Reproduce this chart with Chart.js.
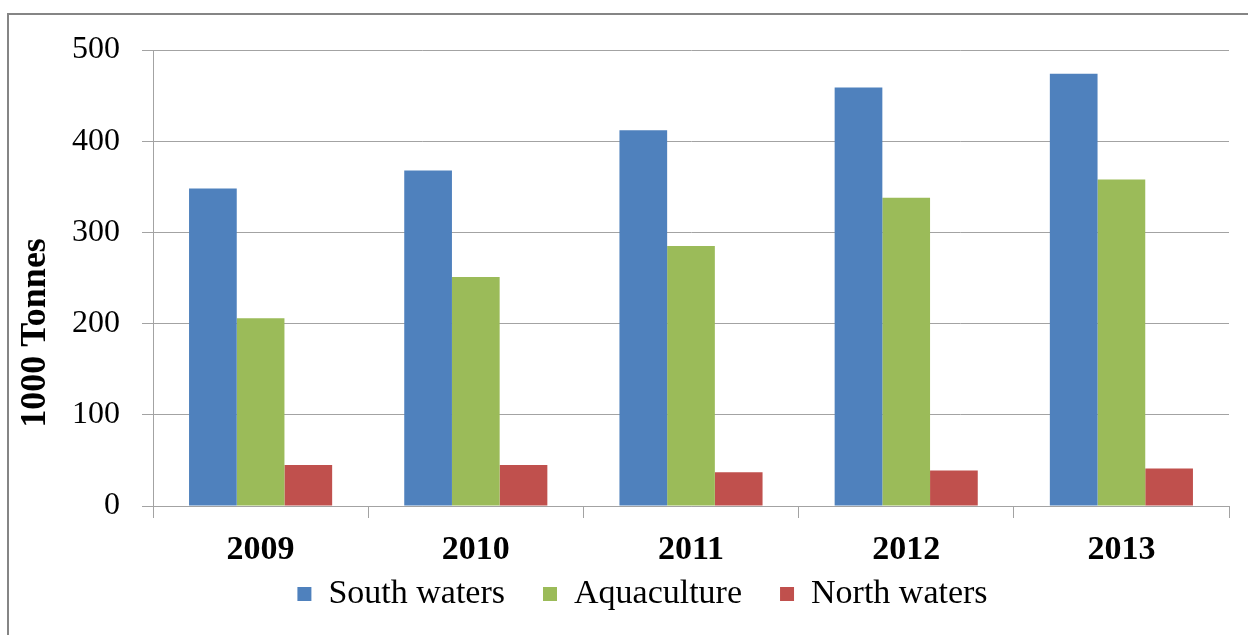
<!DOCTYPE html>
<html>
<head>
<meta charset="utf-8">
<script src="https://cdn.jsdelivr.net/npm/chart.js@4"></script>
<style>
  html, body { margin: 0; padding: 0; background: #fff; overflow: hidden; }
  #wrap { position: relative; width: 1248px; height: 635px; }
  #frame { position: absolute; left: 7px; top: 13px; width: 1300px; height: 700px;
           border: 2px solid #858585; box-sizing: border-box; pointer-events: none; }
  canvas { position: absolute; left: 0; top: 0; }
</style>
</head>
<body>
<div id="wrap">
  <canvas id="c" width="1248" height="635"></canvas>
  <div id="frame"></div>
</div>
<script>
// Catch volumes in thousand tonnes, per year
const years = ['2009', '2010', '2011', '2012', '2013'];
const southWaters = [348, 368, 412, 459, 474];
const aquaculture = [206, 251, 285, 338, 358];
const northWaters = [45, 45, 37, 39, 41];
const yTicks = [0, 100, 200, 300, 400, 500];
const yTitle = '1000 Tonnes';

const serif = "'Liberation Serif', 'Times New Roman', serif";
const gridGray = '#a3a3a3';

// Vertical unit label, placed a little below the middle of the value axis
const unitLabel = {
  id: 'unitLabel',
  afterDraw(chart) {
    const ctx = chart.ctx;
    ctx.save();
    ctx.translate(36, 333);
    ctx.rotate(-Math.PI / 2);
    ctx.font = 'bold 36px ' + serif;
    ctx.fillStyle = '#000';
    ctx.textAlign = 'center';
    ctx.textBaseline = 'middle';
    ctx.fillText(yTitle, 0, 0);
    ctx.restore();
  }
};

// The legend row sits tight under the year labels; lift its box after layout
const legendLift = {
  id: 'legendLift',
  afterLayout(chart) {
    const lg = chart.legend;
    if (!lg) return;
    const h = 82;
    lg.top = 539;
    lg.bottom = lg.top + h;
    lg.height = h;
  }
};

new Chart(document.getElementById('c'), {
  type: 'bar',
  data: {
    labels: years,
    datasets: [
      { label: 'South waters', data: southWaters, backgroundColor: '#4F81BD' },
      { label: 'Aquaculture', data: aquaculture, backgroundColor: '#9BBB59' },
      { label: 'North waters', data: northWaters, backgroundColor: '#C0504D' }
    ]
  },
  plugins: [unitLabel, legendLift],
  options: {
    responsive: false,
    animation: false,
    datasets: { bar: { categoryPercentage: 0.665, barPercentage: 1.0, borderWidth: 0 } },
    layout: { padding: { left: 56, right: 19, top: 50, bottom: 14 } },
    plugins: {
      tooltip: { enabled: false },
      legend: {
        position: 'bottom',
        maxHeight: 49,
        labels: {
          font: { family: serif, size: 34 },
          color: '#000',
          boxWidth: 14,
          boxHeight: 14,
          padding: 38
        }
      }
    },
    scales: {
      x: {
        afterFit: (scale) => { scale.height = 66; },
        grid: { offset: true, drawOnChartArea: false, drawTicks: true, tickLength: 12, color: gridGray },
        border: { color: gridGray, width: 1 },
        ticks: { font: { family: serif, size: 34, weight: 'bold' }, color: '#000', padding: 12 }
      },
      y: {
        min: 0,
        max: 500,
        afterBuildTicks: (scale) => { scale.ticks = yTicks.map(v => ({ value: v })); },
        afterFit: (scale) => { scale.width = 97; },
        grid: { color: gridGray, tickLength: 11 },
        border: { color: gridGray, width: 1 },
        ticks: { font: { family: serif, size: 32 }, color: '#000', padding: 22 }
      }
    }
  }
});
</script>
</body>
</html>
